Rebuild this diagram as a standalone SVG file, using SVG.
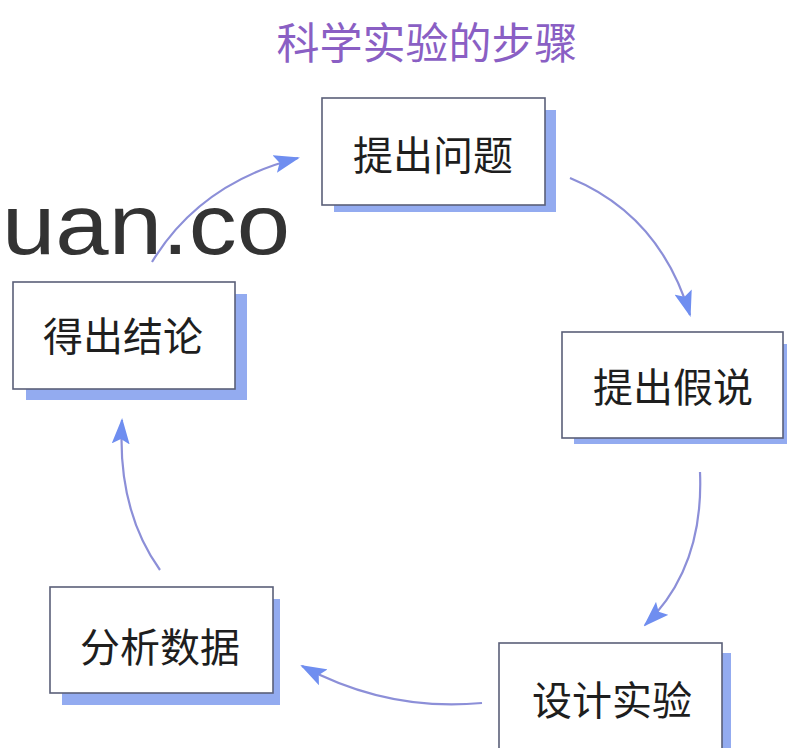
<svg xmlns="http://www.w3.org/2000/svg" width="787" height="748" viewBox="0 0 787 748">
  <defs>
    <style>
      .shadow { fill: #93abf0; }
      .box { fill: #ffffff; stroke: #5a5f78; stroke-width: 1.6; }
      .label { font-family: "Noto Sans CJK SC", sans-serif; font-size: 40px; fill: #1e1e1e; text-anchor: middle; dominant-baseline: central; }
      .title { font-family: "Noto Sans CJK SC", sans-serif; font-size: 43px; fill: #8a5fc4; text-anchor: middle; dominant-baseline: central; }
      .conn { fill: none; stroke: #8c8fd8; stroke-width: 2.2; marker-end: url(#ah); }
      .wm { font-family: "Liberation Sans", Arial, sans-serif; font-size: 86px; fill: #333333; }
    </style>
    <marker id="ah" viewBox="0 0 26 18" refX="24" refY="9" markerWidth="26" markerHeight="18" markerUnits="userSpaceOnUse" orient="auto">
      <path d="M0,0 L26,9 L0,18 L5,9 Z" fill="#6f8ef0"/>
    </marker>
  </defs>
  <rect width="787" height="748" fill="#ffffff"/>

  <text class="title" x="427" y="40">科学实验的步骤</text>

  <g id="connectors">
    <path class="conn" d="M570,178 Q660,215 690,315"/>
    <path class="conn" d="M700,472 Q704,568 645,625"/>
    <path class="conn" d="M482,703 Q388,712 302,666"/>
    <path class="conn" d="M160,570 Q117,510 122,420"/>
    <path class="conn" d="M152,262 Q200,183 298,158"/>
  </g>

  <g id="node-tichuwenti">
    <rect class="shadow" x="334" y="110" width="222" height="102"/>
    <rect class="box" x="322" y="98" width="223" height="107"/>
    <text class="label" x="433" y="153">提出问题</text>
  </g>

  <g id="node-tichujiashuo">
    <rect class="shadow" x="574" y="344" width="222" height="100"/>
    <rect class="box" x="562" y="332" width="221" height="106"/>
    <text class="label" x="673" y="385">提出假说</text>
  </g>

  <g id="node-shejishiyan">
    <rect class="shadow" x="511" y="653" width="220" height="110"/>
    <rect class="box" x="499" y="643" width="223" height="110"/>
    <text class="label" x="612" y="698">设计实验</text>
  </g>

  <g id="node-fenxishuju">
    <rect class="shadow" x="62" y="599" width="218" height="106"/>
    <rect class="box" x="50" y="587" width="223" height="106"/>
    <text class="label" x="160" y="645">分析数据</text>
  </g>

  <g id="node-dechujielun">
    <rect class="shadow" x="26" y="294" width="221" height="106"/>
    <rect class="box" x="13" y="282" width="222" height="107"/>
    <text class="label" x="123" y="334">得出结论</text>
  </g>

  <text class="wm" x="2" y="254" textLength="288" lengthAdjust="spacingAndGlyphs">uan.co</text>
</svg>
